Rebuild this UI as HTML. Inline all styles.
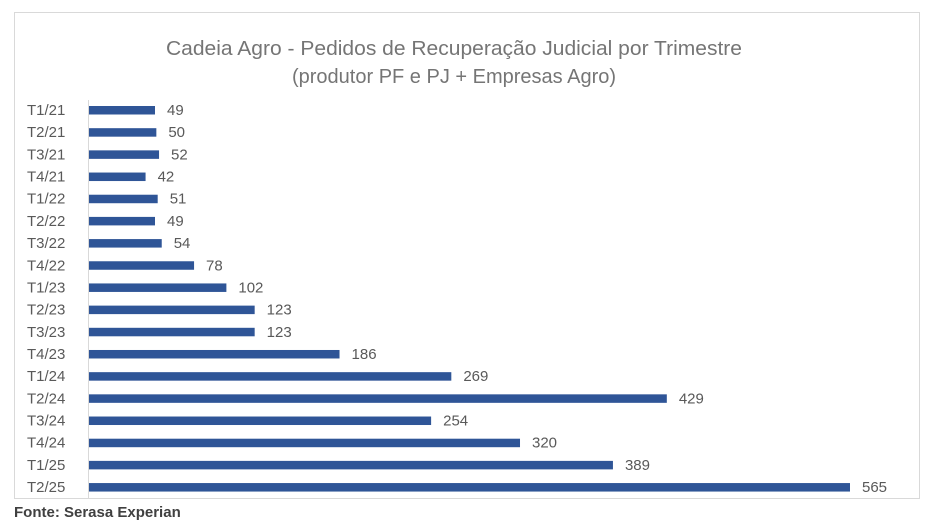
<!DOCTYPE html>
<html><head><meta charset="utf-8"><style>
body{margin:0;background:#fff;width:940px;height:530px;overflow:hidden}
svg{display:block}
</style></head><body>
<svg width="940" height="530" xmlns="http://www.w3.org/2000/svg" font-family="Liberation Sans, sans-serif">
<rect x="14.5" y="12.5" width="905" height="486" fill="#fff" stroke="#d9d9d9"/>
<text x="454" y="55" text-anchor="middle" font-size="20" fill="#757575" textLength="576" lengthAdjust="spacingAndGlyphs">Cadeia Agro - Pedidos de Recuperação Judicial por Trimestre</text>
<text x="454" y="83" text-anchor="middle" font-size="20" fill="#757575">(produtor PF e PJ + Empresas Agro)</text>
<line x1="88.5" y1="100" x2="88.5" y2="498" stroke="#d9d9d9"/>
<g id="bars" font-size="15" fill="#595959"></g>
<text x="14" y="517" font-size="15" font-weight="bold" fill="#404040">Fonte: Serasa Experian</text>
</svg>
<script>
const d=[["T1/21",49],["T2/21",50],["T3/21",52],["T4/21",42],["T1/22",51],["T2/22",49],["T3/22",54],["T4/22",78],["T1/23",102],["T2/23",123],["T3/23",123],["T4/23",186],["T1/24",269],["T2/24",429],["T3/24",254],["T4/24",320],["T1/25",389],["T2/25",565]];
let g=document.getElementById('bars'),s='';
d.forEach((r,i)=>{const y=110+i*22.18,w=r[1]*761/565;
s+=`<text x="27" y="${y+5}">${r[0]}</text><rect x="89" y="${y-4}" width="${w}" height="8.5" fill="#2F5597"/><text x="${89+w+12}" y="${y+5}">${r[1]}</text>`;});
g.innerHTML=s;
</script>
</body></html>
